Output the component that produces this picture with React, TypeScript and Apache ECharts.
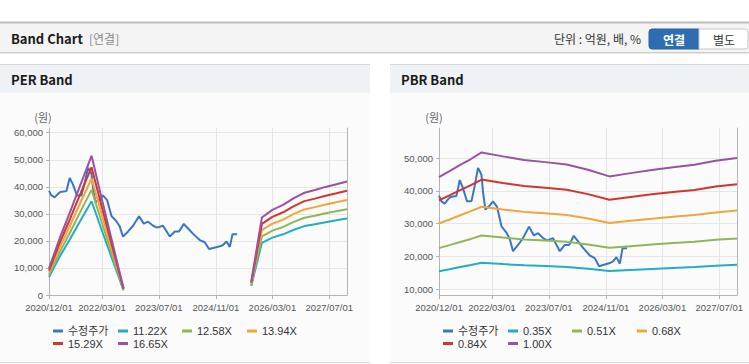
import React, { useEffect, useRef } from 'react';
import * as echarts from 'echarts';

// ---------- data ----------
const X_MIN = '2020-12-01';
const X_MAX = '2027-12-01';
const xTickDates = ['2020-12-01', '2022-03-01', '2023-07-01', '2024-11-01', '2026-03-01', '2027-07-01'];

const perYTicks = [0, 10000, 20000, 30000, 40000, 50000, 60000];
const pbrYTicks = [10000, 20000, 30000, 40000, 50000];

const priceName = '수정주가';
const priceDates = ['2020-12-01', '2020-12-22', '2021-01-19', '2021-02-16', '2021-03-09', '2021-04-29', '2021-05-28', '2021-06-25', '2021-07-29', '2021-09-05', '2021-10-03', '2021-11-01', '2021-11-30', '2021-12-14', '2022-01-03', '2022-02-09', '2022-03-09', '2022-04-13', '2022-05-21', '2022-07-02', '2022-07-31', '2022-08-28', '2022-10-10', '2022-11-22', '2023-01-12', '2023-02-22', '2023-03-31', '2023-05-13', '2023-06-16', '2023-08-06', '2023-10-03', '2023-11-15', '2023-12-22', '2024-01-31', '2024-03-08', '2024-04-20', '2024-06-16', '2024-07-29', '2024-09-04', '2024-10-09', '2024-12-05', '2025-01-02', '2025-01-31', '2025-03-01', '2025-03-24', '2025-05-02'];
const priceValues = [38500, 36800, 36100, 37400, 38100, 38400, 43300, 40800, 36800, 36800, 41500, 47000, 44900, 39500, 34300, 35500, 36800, 35100, 29200, 27300, 25300, 21600, 23500, 25600, 29100, 26400, 27100, 25600, 24900, 25600, 21600, 23500, 23500, 26300, 24600, 22600, 20300, 19500, 17000, 17400, 18000, 18500, 19800, 17800, 22500, 22500];

const perBandNames = ['11.22X', '12.58X', '13.94X', '15.29X', '16.65X'];
const perBandDates = ['2020-12-01', '2021-03-01', '2021-06-01', '2021-09-01', '2021-12-01', '2022-03-01', '2022-06-01', '2022-09-01', '2023-06-01', '2025-09-01', '2025-12-01', '2026-03-01', '2026-06-01', '2026-09-01', '2026-12-01', '2027-03-01', '2027-06-01', '2027-09-01', '2027-12-01'];
const per1122 = [6620, 14030, 20760, 27830, 34670, 23670, 12680, 1680, null, 3370, 19300, 21210, 22440, 24120, 25470, 26140, 26930, 27600, 28270];
const per1258 = [7420, 15730, 23270, 31200, 38870, 26540, 14220, 1890, null, 3770, 21640, 23780, 25160, 27050, 28560, 29310, 30190, 30950, 31700];
const per1394 = [8225, 17430, 25790, 34570, 43070, 29410, 15750, 2090, null, 4180, 23980, 26350, 27880, 29970, 31640, 32480, 33460, 34290, 35130];
const per1529 = [9020, 19110, 28290, 37920, 47250, 32260, 17280, 2290, null, 4590, 26300, 28900, 30580, 32870, 34710, 35630, 36700, 37610, 38530];
const per1665 = [9820, 20810, 30800, 41290, 51450, 35130, 18810, 2500, null, 5000, 28640, 31470, 33300, 35800, 37800, 38790, 39960, 40960, 41960];

const pbrBandNames = ['0.35X', '0.51X', '0.68X', '0.84X', '1.00X'];
const pbrBandDates = ['2020-12-01', '2021-03-01', '2021-06-01', '2021-09-01', '2021-12-01', '2022-06-01', '2022-12-01', '2023-06-01', '2023-12-01', '2024-06-01', '2024-12-01', '2025-06-01', '2025-12-01', '2026-06-01', '2026-12-01', '2027-06-01', '2027-12-01'];
const pbr035 = [15470, 16100, 16770, 17400, 18100, 17680, 17290, 17060, 16820, 16250, 15540, 15890, 16220, 16520, 16780, 17200, 17500];
const pbr051 = [22540, 23460, 24430, 25350, 26370, 25760, 25190, 24860, 24510, 23680, 22640, 23150, 23640, 24070, 24460, 25070, 25500];
const pbr068 = [30060, 31280, 32570, 33800, 35160, 34340, 33590, 33150, 32670, 31570, 30190, 30870, 31520, 32100, 32610, 33420, 34000];
const pbr084 = [37130, 38640, 40240, 41750, 43430, 42420, 41500, 40950, 40360, 39000, 37300, 38140, 38930, 39650, 40280, 41290, 42000];
const pbr100 = [44200, 46000, 47900, 49700, 51700, 50500, 49400, 48750, 48050, 46430, 44400, 45400, 46350, 47200, 47950, 49150, 50000];

const PRICE_COLOR = '#3b76c4';
const BAND_COLORS = ['#22adc4', '#91b65a', '#f3a43a', '#d1352e', '#9b52a0'];

// ---------- helpers ----------
const FONT_AX = '"Liberation Sans", Arial, sans-serif';
const FONT_LEG = '"Liberation Sans", "Noto Sans CJK KR", sans-serif';
const FONT_HEAD = '"Noto Sans CJK KR", "Liberation Sans", sans-serif';

const DAY = 86400000;
const utc = (s: string) => {
  const [y, m, d] = s.split('-').map(Number);
  return Date.UTC(y, m - 1, d);
};
const BASE = utc(X_MIN);
// day offset from the axis origin
const dayOf = (s: string) => Math.round((utc(s) - BASE) / DAY);
const pad = (n: number) => (n < 10 ? '0' + n : '' + n);
const fmtDay = (v: number) => {
  const d = new Date(BASE + Math.round(v) * DAY);
  return `${d.getUTCFullYear()}/${pad(d.getUTCMonth() + 1)}/${pad(d.getUTCDate())}`;
};
const fmtNum = (v: number) => String(Math.round(v)).replace(/\B(?=(\d{3})+(?!\d))/g, ',');
const zip = (dates: string[], vals: (number | null)[]) =>
  dates.map((d, i) => [dayOf(d), vals[i] === null ? '-' : vals[i]]);

const AXIS_COLOR = '#b4b4b4';
const GRID_COLOR = '#e6e6e6';

function makeXAxis(gridIndex: number) {
  const ticks = xTickDates.map(dayOf);
  return {
    type: 'value',
    gridIndex,
    min: 0,
    max: dayOf(X_MAX),
    axisLine: { show: true, onZero: false, lineStyle: { color: AXIS_COLOR, width: 1 } },
    axisTick: { show: true, length: 4, lineStyle: { color: AXIS_COLOR }, customValues: ticks },
    axisLabel: {
      show: true,
      customValues: ticks,
      formatter: (v: number) => fmtDay(v),
      color: '#555',
      fontSize: 9.5,
      lineHeight: 10,
      fontFamily: FONT_AX,
      margin: 7,
    },
    splitLine: { show: true, lineStyle: { color: GRID_COLOR, width: 1 } },
  };
}

function makeYAxis(gridIndex: number, min: number, max: number, ticks: number[]) {
  return {
    type: 'value',
    gridIndex,
    min,
    max,
    axisLine: { show: true, lineStyle: { color: AXIS_COLOR, width: 1 } },
    axisTick: { show: true, length: 3, lineStyle: { color: AXIS_COLOR }, customValues: ticks },
    axisLabel: {
      show: true,
      customValues: ticks,
      formatter: (v: number) => fmtNum(v),
      color: '#555',
      fontSize: 9.5,
      lineHeight: 10,
      fontFamily: FONT_AX,
      margin: 6,
    },
    splitLine: { show: true, lineStyle: { color: GRID_COLOR, width: 1 } },
  };
}

function makeBorderAxis(gridIndex: number) {
  return {
    type: 'value',
    gridIndex,
    position: 'right',
    min: 0,
    max: 1,
    axisLine: { show: true, onZero: false, lineStyle: { color: AXIS_COLOR, width: 1 } },
    axisTick: { show: false },
    axisLabel: { show: false },
    splitLine: { show: false },
  };
}

function lineSeries(name: string, data: any[], color: string, xi: number, yi: number) {
  return {
    type: 'line',
    name,
    data,
    xAxisIndex: xi,
    yAxisIndex: yi,
    showSymbol: false,
    symbol: 'none',
    connectNulls: false,
    color,
    lineStyle: { color, width: 2 },
    emphasis: { disabled: true },
    z: 3,
  };
}

function legendItem(name: string, left: number, top: number) {
  return {
    show: true,
    data: [{ name, icon: 'rect' }],
    left,
    top,
    padding: 0,
    itemWidth: 10,
    itemHeight: 3,
    itemGap: 0,
    selectedMode: false,
    textStyle: { fontSize: 11, color: '#333', fontFamily: FONT_LEG, lineHeight: 12 },
  };
}

function txt(text: string, x: number, y: number, o: any = {}) {
  return {
    type: 'text',
    x,
    y,
    z: 10,
    style: {
      text,
      fill: o.fill || '#333',
      fontSize: o.fontSize || 12,
      fontWeight: o.fontWeight || 'normal',
      fontFamily: o.fontFamily || FONT_HEAD,
      align: o.align || 'left',
      verticalAlign: 'middle',
    },
  };
}

function rect(x: number, y: number, w: number, h: number, style: any, z = -10, r: any = 0) {
  return { type: 'rect', z, shape: { x, y, width: w, height: h, r }, style };
}

function hline(x1: number, x2: number, y: number, stroke: string, lineWidth = 1, z = -9) {
  return { type: 'line', z, shape: { x1, y1: y, x2, y2: y }, style: { stroke, lineWidth } };
}

export default function App() {
  const ref = useRef<HTMLDivElement>(null);

  useEffect(() => {
    if (!ref.current) return;
    const chart = echarts.init(ref.current, undefined, { renderer: 'svg' });

    const perBands = [per1122, per1258, per1394, per1529, per1665];
    const pbrBands = [pbr035, pbr051, pbr068, pbr084, pbr100];
    const priceData = zip(priceDates, priceValues);

    const series: any[] = [];
    series.push(lineSeries(priceName, priceData, PRICE_COLOR, 0, 0));
    perBands.forEach((b, i) => series.push(lineSeries(perBandNames[i], zip(perBandDates, b), BAND_COLORS[i], 0, 0)));
    series.push(lineSeries(priceName, priceData, PRICE_COLOR, 1, 2));
    pbrBands.forEach((b, i) => series.push(lineSeries(pbrBandNames[i], zip(pbrBandDates, b), BAND_COLORS[i], 1, 2)));

    const legCols = [53, 118, 182, 247];
    const row1 = 325;
    const row2 = 337.5;
    const legends: any[] = [];
    const perLegNames = [priceName, ...perBandNames];
    const pbrLegNames = [priceName, ...pbrBandNames];
    perLegNames.forEach((n, i) => {
      legends.push(legendItem(n, legCols[i % 4], i < 4 ? row1 : row2));
    });
    pbrLegNames.forEach((n, i) => {
      legends.push(legendItem(n, legCols[i % 4] + 390, i < 4 ? row1 : row2));
    });

    const graphics: any[] = [
      // header bar
      rect(0, 22, 749, 31, { fill: '#f4f4f4' }),
      hline(0, 749, 22.5, '#bdbdbd', 2),
      hline(0, 749, 52.5, '#cdcdcd', 1),
      hline(0, 749, 53.5, '#e8e8e8', 1),
      txt('Band Chart', 11, 38, { fontWeight: 'bold', fontSize: 13, fill: '#1a1a1a' }),
      txt('[연결]', 89, 38, { fontSize: 12, fill: '#8a8a8a' }),
      txt('단위 : 억원, 배, %', 641, 38, { fontSize: 12, fill: '#333', align: 'right' }),
      rect(649, 29, 50, 20, { fill: '#2f6db3', stroke: '#2a62a3', lineWidth: 1 }, 5, [3, 0, 0, 3]),
      txt('연결', 674, 39, { fontSize: 12, fontWeight: 'bold', fill: '#ffffff', align: 'center' }),
      rect(699, 29, 49, 20, { fill: '#ffffff', stroke: '#c8c8c8', lineWidth: 1 }, 5, [0, 3, 3, 0]),
      txt('별도', 724, 39, { fontSize: 12, fill: '#333', align: 'center' }),
      // left panel
      rect(0, 64, 370, 299, { fill: '#fbfbfc' }),
      rect(0, 65, 370, 28, { fill: '#eef2f7' }),
      hline(0, 370, 64.5, '#d8d8d8', 1),
      hline(0, 370, 362.5, '#d8d8d8', 1),
      txt('PER Band', 11, 79, { fontWeight: 'bold', fontSize: 13, fill: '#1a1a1a' }),
      txt('(원)', 43, 117, { fontSize: 11, fill: '#666', align: 'center' }),
      // right panel
      rect(390, 64, 359, 299, { fill: '#fbfbfc' }),
      rect(390, 65, 359, 28, { fill: '#eef2f7' }),
      hline(390, 749, 64.5, '#d8d8d8', 1),
      hline(390, 749, 362.5, '#d8d8d8', 1),
      txt('PBR Band', 401, 79, { fontWeight: 'bold', fontSize: 13, fill: '#1a1a1a' }),
      txt('(원)', 434, 117, { fontSize: 11, fill: '#666', align: 'center' }),
    ];

    chart.setOption({
      animation: false,
      backgroundColor: '#ffffff',
      tooltip: { show: false },
      grid: [
        { left: 49, top: 128, width: 298, height: 167, containLabel: false },
        { left: 439, top: 128, width: 298, height: 167, containLabel: false },
      ],
      xAxis: [makeXAxis(0), makeXAxis(1)],
      yAxis: [
        makeYAxis(0, 0, 61740, perYTicks),
        makeBorderAxis(0),
        makeYAxis(1, 8260, 59150, pbrYTicks),
        makeBorderAxis(1),
      ],
      legend: legends,
      graphic: { elements: graphics },
      series,
    });

    return () => chart.dispose();
  }, []);

  return (
    <div
      ref={ref}
      style={{ position: 'absolute', left: 0, top: 0, width: 749, height: 364 }}
    />
  );
}
